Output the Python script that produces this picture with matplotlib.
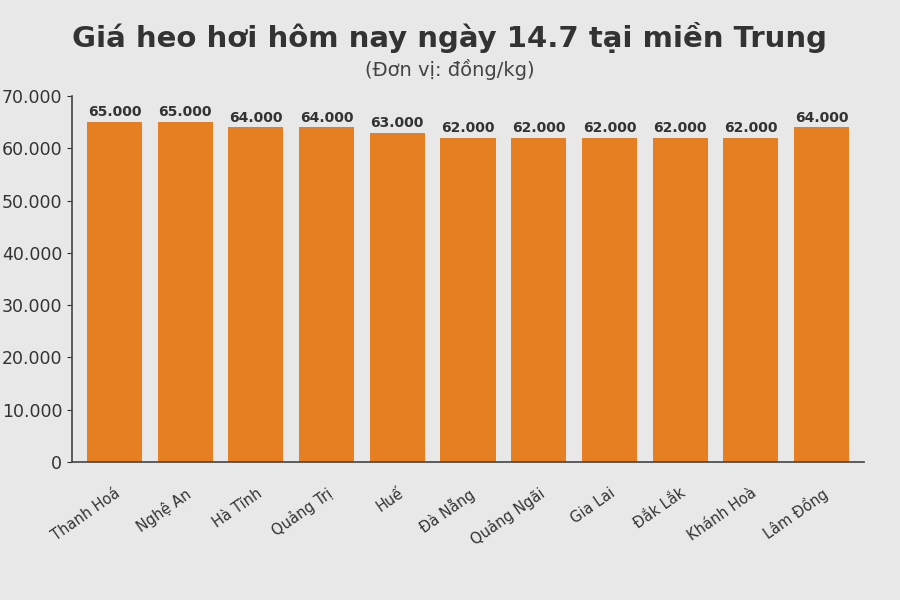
import numpy as np
import matplotlib
matplotlib.use("Agg")
import matplotlib.pyplot as plt
from matplotlib.ticker import FuncFormatter

provinces = ["Thanh Hoá", "Nghệ An", "Hà Tĩnh", "Quảng Trị", "Huế", "Đà Nẵng",
             "Quảng Ngãi", "Gia Lai", "Đắk Lắk", "Khánh Hoà", "Lâm Đồng"]
prices = [65000, 65000, 64000, 64000, 63000, 62000, 62000, 62000, 62000, 62000, 64000]

bg = "#e8e8e8"
bar_color = "#e67e22"
text_color = "#333333"


def dot_thousands(v, pos=None):
    return "{:,.0f}".format(v).replace(",", ".")


fig = plt.figure(figsize=(9, 6), dpi=100, facecolor=bg)
ax = fig.add_axes([0.08, 0.23, 0.88, 0.61], facecolor=bg)

x = np.arange(len(provinces))
bars = ax.bar(x, prices, width=0.78, color=bar_color)

for b, v in zip(bars, prices):
    ax.annotate(dot_thousands(v), (b.get_x() + b.get_width() / 2, v),
                xytext=(0, 2), textcoords="offset points",
                ha="center", va="bottom", fontsize=10, fontweight="bold",
                color=text_color)

ax.set_xlim(-0.6, len(provinces) - 0.4)
ax.set_ylim(0, 70000)
ax.set_yticks(np.arange(0, 70001, 10000))
ax.yaxis.set_major_formatter(FuncFormatter(dot_thousands))
ax.set_xticks(x)
ax.set_xticklabels(provinces, rotation=35, ha="right", rotation_mode="anchor",
                   fontsize=10.5, color=text_color)
ax.tick_params(axis="y", labelsize=12.5, colors=text_color)
ax.tick_params(axis="x", length=0, pad=17)

for side in ["top", "right"]:
    ax.spines[side].set_visible(False)
for side in ["left", "bottom"]:
    ax.spines[side].set_color("#444444")
    ax.spines[side].set_linewidth(1.2)

fig.text(0.5, 0.938, "Giá heo hơi hôm nay ngày 14.7 tại miền Trung",
         ha="center", va="center", fontsize=21, fontweight="bold", color=text_color)
fig.text(0.5, 0.884, "(Đơn vị: đồng/kg)", ha="center", va="center",
         fontsize=14, color="#444444")

fig.savefig("out.png", dpi=100, facecolor=bg)
